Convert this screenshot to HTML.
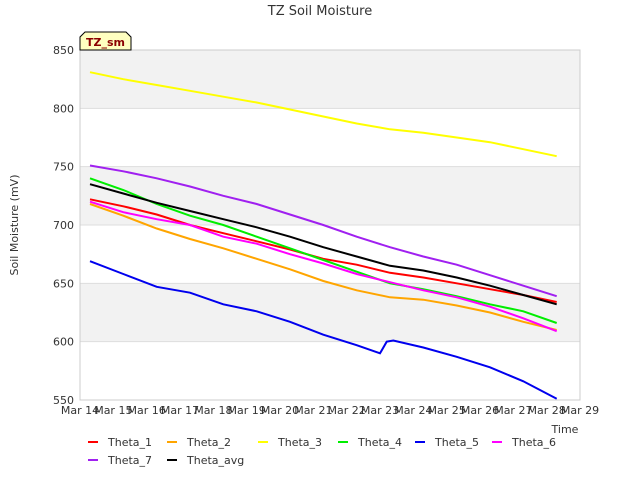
<!DOCTYPE html>
<html><head><meta charset="utf-8"><style>
body{margin:0;background:#fff;font-family:"Liberation Sans","DejaVu Sans",sans-serif}
svg text{font-family:"DejaVu Sans","Liberation Sans",sans-serif}
</style></head><body>
<svg id="chart" width="640" height="480" xmlns="http://www.w3.org/2000/svg">
<rect width="640" height="480" fill="#fff"/>
<g id="bands"></g>
<g id="grid"></g>
<rect x="80" y="50" width="500" height="350" fill="none" stroke="#ccc"/>
<g id="axes"></g>
<g id="series"></g>
<text x="320" y="15" text-anchor="middle" font-size="13" fill="#333">TZ Soil Moisture</text>
<text x="18" y="225" text-anchor="middle" font-size="11" fill="#333" transform="rotate(-90 18 225)">Soil Moisture (mV)</text>
<text x="565" y="433" text-anchor="middle" font-size="11" fill="#333">Time</text>
<g>
<path d="M80,50 L80,37 L85,32 L126,32 L131,37 L131,50 Z" fill="#ffffc0" stroke="#000" stroke-width="1"/>
<text x="105.5" y="46" text-anchor="middle" font-size="11" font-weight="bold" fill="#8b0000">TZ_sm</text>
</g>
<g id="legend"></g>
</svg>
<script>
const yTicks=[550,600,650,700,750,800,850];
const xTickLabels=["Mar 14","Mar 15","Mar 16","Mar 17","Mar 18","Mar 19","Mar 20","Mar 21","Mar 22","Mar 23","Mar 24","Mar 25","Mar 26","Mar 27","Mar 28","Mar 29"];
const days=[0.3,1.3,2.3,3.3,4.3,5.3,6.3,7.3,8.3,9.3,10.3,11.3,12.3,13.3,14.3];
const theta1=[722,716,709,700,693,686,679,671,666,659,655,650,645,640,634];
const theta2=[718,708,697,688,680,671,662,652,644,638,636,631,625,617,610];
const theta3=[831,825,820,815,810,805,799,793,787,782,779,775,771,765,759];
const theta4=[740,730,718,708,700,690,680,670,660,650,645,639,632,626,616];
const blueDays=[0.3,1.3,2.3,3.3,4.3,5.3,6.3,7.3,8.3,9.0,9.2,9.4,10.3,11.3,12.3,13.3,14.3];
const theta5=[669,658,647,642,632,626,617,606,597,590,600,601,595,587,578,566,551];
const theta6=[720,711,705,700,690,684,675,667,658,651,644,638,630,620,609];
const theta7=[751,746,740,733,725,718,709,700,690,681,673,666,657,648,639];
const thetaAvg=[735,727,719,712,705,698,690,681,673,665,661,655,648,640,632];
const names=["Theta_1","Theta_2","Theta_3","Theta_4","Theta_5","Theta_6","Theta_7","Theta_avg"];
const colors=["#ff0000","#ffa500","#ffff00","#00ee00","#0000ee","#ff00ff","#a020f0","#000000"];
const NS="http://www.w3.org/2000/svg";
const xs=d=>80+d*500/15, ys=v=>50+(850-v)*350/300;
function mk(tag,attrs,parent){const e=document.createElementNS(NS,tag);for(const k in attrs)e.setAttribute(k,attrs[k]);parent.appendChild(e);return e;}
const bands=document.getElementById('bands'),grid=document.getElementById('grid'),axes=document.getElementById('axes');
[[800,850],[700,750],[600,650]].forEach(b=>{const r=mk('rect',{x:80,y:ys(b[1]),width:500,height:ys(b[0])-ys(b[1]),fill:'#f2f2f2'},bands);

});
yTicks.forEach(v=>{mk('line',{x1:80,x2:580,y1:ys(v),y2:ys(v),stroke:'#ddd'},grid);
const t=mk('text',{x:74,y:ys(v)+4,'text-anchor':'end','font-size':11,fill:'#333'},axes);t.textContent=v;

});
xTickLabels.forEach((l,i)=>{const t=mk('text',{x:xs(i),y:414,'text-anchor':'middle','font-size':11,fill:'#333'},axes);t.textContent=l;

});
const data=[[days,theta1],[days,theta2],[days,theta3],[days,theta4],[blueDays,theta5],[days,theta6],[days,theta7],[days,thetaAvg]];
const sg=document.getElementById('series');
data.forEach((s,i)=>{const pts=s[1].map((v,j)=>xs(s[0][j]).toFixed(1)+','+ys(v).toFixed(1)).join(' ');
const p=mk('polyline',{points:pts,fill:'none',stroke:colors[i],'stroke-width':2},sg);

});
const lg=document.getElementById('legend');
const pos=[[88,442],[167,442],[258,442],[338,442],[415,442],[492,442],[88,460],[167,460]];
names.forEach((n,i)=>{const g=mk('g',{},lg);


const [x,y]=pos[i];mk('line',{x1:x,x2:x+10,y1:y,y2:y,stroke:colors[i],'stroke-width':2},g);
const t=mk('text',{x:x+20,y:y+4,'font-size':11,fill:'#333'},g);t.textContent=n;});
</script>
</body></html>
